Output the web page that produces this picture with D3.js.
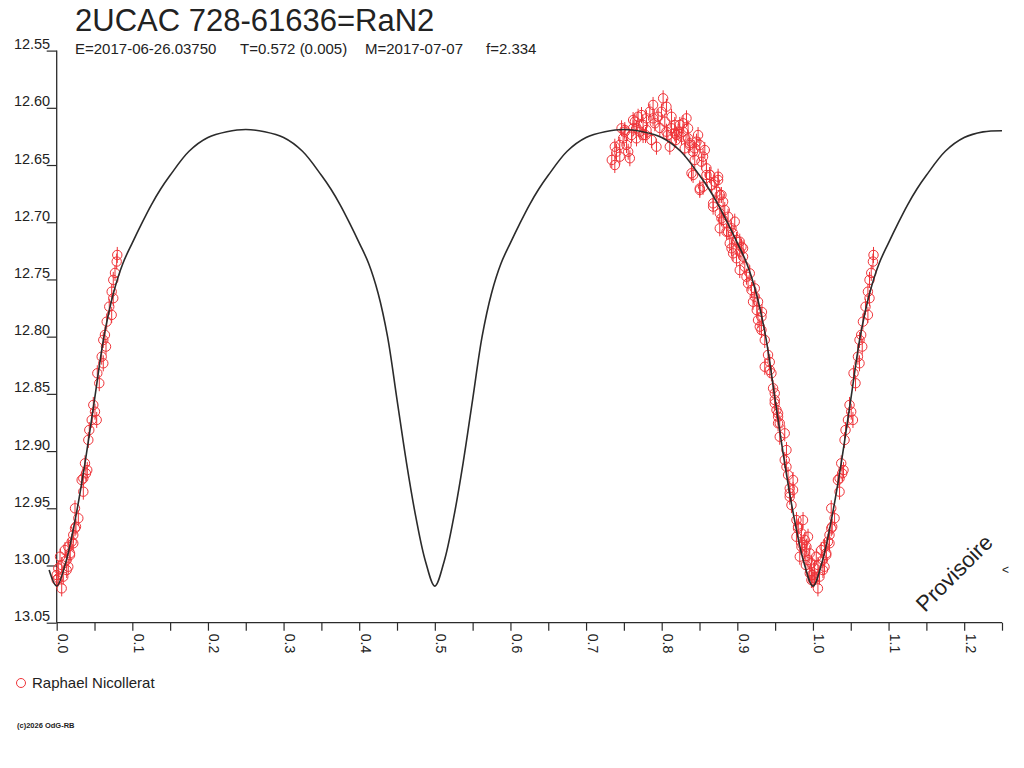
<!DOCTYPE html>
<html>
<head>
<meta charset="utf-8">
<script src="https://cdn.jsdelivr.net/npm/d3@7"></script>
<style>
  body { margin: 0; background: #fff; }
  svg { display: block; }
  text { font-family: "Liberation Sans", Arial, sans-serif; fill: #222; }
</style>
</head>
<body>
<div id="chart"></div>
<script>
// ---- data ----
var title = "2UCAC 728-61636=RaN2";
var subtitleParts = ["E=2017-06-26.03750", "T=0.572 (0.005)", "M=2017-07-07", "f=2.334"];
var observer = "Raphael Nicollerat";
var credit = "(c)2026 OdG-RB";

var yTicks = [12.55, 12.60, 12.65, 12.70, 12.75, 12.80, 12.85, 12.90, 12.95, 13.00, 13.05];
var xTicks = [0, 0.05, 0.1, 0.15, 0.2, 0.25, 0.3, 0.35, 0.4, 0.45, 0.5, 0.55, 0.6, 0.65, 0.7, 0.75, 0.8, 0.85, 0.9, 0.95, 1.0, 1.05, 1.1, 1.15, 1.2, 1.25];

// model light curve (phase, magnitude)
var modelPhase = [-0.01,
  0, 0.0125, 0.025, 0.0375, 0.05, 0.0625, 0.075, 0.0875, 0.1, 0.1125, 0.125, 0.1375, 0.15, 0.175, 0.2, 0.225, 0.25,
  0.275, 0.3, 0.325, 0.35, 0.3625, 0.375, 0.3875, 0.4, 0.4125, 0.425, 0.4375, 0.45, 0.4625, 0.475, 0.4875,
  0.5, 0.5125, 0.525, 0.5375, 0.55, 0.5625, 0.575, 0.5875, 0.6, 0.6125, 0.625, 0.6375, 0.65, 0.675, 0.7, 0.725, 0.75,
  0.775, 0.8, 0.825, 0.85, 0.8625, 0.875, 0.8875, 0.9, 0.9125, 0.925, 0.9375, 0.95, 0.9625, 0.975, 0.9875,
  1.0, 1.0125, 1.025, 1.0375, 1.05, 1.0625, 1.075, 1.0875, 1.1, 1.1125, 1.125, 1.1375, 1.15, 1.175, 1.2, 1.225, 1.25];
var modelMag = [13.004,
  13.018, 12.996, 12.958, 12.910, 12.855, 12.800, 12.762, 12.736, 12.718, 12.701, 12.685, 12.671, 12.659, 12.638, 12.626, 12.621, 12.619,
  12.621, 12.626, 12.638, 12.659, 12.671, 12.685, 12.701, 12.718, 12.736, 12.762, 12.800, 12.855, 12.910, 12.958, 12.996,
  13.018, 12.996, 12.958, 12.910, 12.855, 12.800, 12.762, 12.736, 12.718, 12.701, 12.685, 12.671, 12.659, 12.638, 12.626, 12.621, 12.619,
  12.621, 12.626, 12.638, 12.659, 12.671, 12.685, 12.701, 12.718, 12.736, 12.762, 12.800, 12.855, 12.910, 12.958, 12.996,
  13.018, 12.996, 12.958, 12.910, 12.855, 12.800, 12.762, 12.736, 12.718, 12.701, 12.685, 12.671, 12.659, 12.638, 12.626, 12.621, 12.620];

// observations (phase in [0,1), magnitude)
var obsPhase = [0.0801, 0.0793, 0.0771, 0.0748, 0.0727, 0.0748, 0.0695, 0.0727, 0.0661, 0.0638, 0.0616, 0.0652, 0.0595, 0.0616, 0.0537, 0.0563,
  0.0484, 0.0506, 0.0463, 0.0529, 0.0431, 0.0418, 0.0374, 0.0404, 0.0352, 0.0387, 0.0330, 0.0352, 0.0242, 0.0286, 0.0255, 0.0242,
  0.0219, 0.0198, 0.0219, 0.0153, 0.0110, 0.0044, 0.0176, 0.0176, 0.0132, 0.0066, 0.0153, 0.0021, 0.0132, 0.0000, 0.0087, 0.0021,
  0.0000, 0.0066,
  0.7380, 0.7380, 0.7446, 0.7402, 0.7490, 0.7469, 0.7579, 0.7535, 0.7601, 0.7645, 0.7688, 0.7667, 0.7754, 0.7733, 0.7799, 0.7843,
  0.7886, 0.7909, 0.7865, 0.7931, 0.8019, 0.7997, 0.8063, 0.8041, 0.8107, 0.8130, 0.8173, 0.8217, 0.8262, 0.8328, 0.8283, 0.8349,
  0.8305, 0.8394, 0.8415, 0.8481, 0.8504, 0.8504, 0.8526, 0.8592, 0.8636, 0.8702, 0.8746, 0.8680, 0.8768, 0.8790, 0.8812, 0.8878,
  0.8923, 0.8768, 0.8966, 0.8923, 0.8989, 0.9076, 0.7512, 0.7786, 0.7975, 0.8081, 0.8186, 0.8371, 0.8437, 0.8570, 0.7340,
  0.7622, 0.7711, 0.7799, 0.8063, 0.8196, 0.8239, 0.8371, 0.8437, 0.8547, 0.8592, 0.8658, 0.8724, 0.7557, 0.7446, 0.7512, 0.7667,
  0.7754, 0.7622, 0.7886, 0.7953, 0.8130, 0.8173, 0.8283, 0.8349, 0.8460, 0.8857, 0.8944,
  0.8415, 0.8547, 0.8504, 0.8636, 0.8746, 0.8680, 0.8790, 0.8768, 0.8834, 0.8900, 0.8989, 0.8944, 0.9032, 0.8989, 0.9076, 0.9032,
  0.9099, 0.9142, 0.9187, 0.9231, 0.9208, 0.9274, 0.9274, 0.9319, 0.9363, 0.9406, 0.9363, 0.9451, 0.9473, 0.9495, 0.9518, 0.9539,
  0.9326, 0.9429, 0.9257, 0.8812, 0.8878, 0.9032, 0.9055, 0.9121, 0.9165, 0.9231, 0.9297, 0.9319, 0.9429, 0.9495, 0.9539,
  0.9495, 0.9539, 0.9561, 0.9561, 0.9627, 0.9650, 0.9627, 0.9650, 0.9671, 0.9693, 0.9737, 0.9693, 0.9716, 0.9782, 0.9803, 0.9869,
  0.9782, 0.9848, 0.9892, 0.9935, 0.9826, 0.9914, 0.9958, 0.9980, 0.9984, 0.9906, 0.9865,
  0.9693, 0.9737, 0.9803, 0.9848, 0.9892, 0.9935, 0.9958, 0.9980];
var obsMag = [12.7286, 12.7344, 12.7443, 12.7504, 12.7607, 12.7664, 12.7738, 12.7810, 12.7869, 12.7985, 12.8029, 12.8087, 12.8175, 12.8233, 12.8320, 12.8407,
  12.8597, 12.8656, 12.8728, 12.8728, 12.8816, 12.8903, 12.9107, 12.9166, 12.9238, 12.9195, 12.9253, 12.9355, 12.9500, 12.9587, 12.9661, 12.9675,
  12.9733, 12.9792, 12.9806, 12.9836, 12.9865, 12.9923, 12.9893, 12.9909, 12.9952, 12.9996, 13.0011, 13.0025, 13.0040, 13.0083, 13.0098, 13.0112,
  13.0126, 13.0200,
  12.6340, 12.6500, 12.6427, 12.6384, 12.6267, 12.6179, 12.6441, 12.6325, 12.6238, 12.6121, 12.6078, 12.6179, 12.6150, 12.6063, 12.6092, 12.6034,
  12.5975, 12.6135, 12.6281, 12.6340, 12.5917, 12.6034, 12.5990, 12.6121, 12.6340, 12.6179, 12.6150, 12.6209, 12.6253, 12.6092, 12.6135, 12.6267,
  12.6354, 12.6572, 12.6384, 12.6238, 12.6325, 12.6704, 12.6471, 12.6529, 12.6587, 12.6646, 12.6602, 12.6864, 12.6762, 12.6966, 12.6821, 12.6952,
  12.7053, 12.7053, 12.6995, 12.7228, 12.7170, 12.7228, 12.6194, 12.6238, 12.6176, 12.6238, 12.6281, 12.6325, 12.6456, 12.6369, 12.6456,
  12.6179, 12.6209, 12.6194, 12.6209, 12.6238, 12.6150, 12.6310, 12.6354, 12.6427, 12.6587, 12.6675, 12.6733, 12.6384, 12.6325, 12.6209, 12.6267,
  12.6238, 12.6107, 12.6092, 12.6078, 12.6078, 12.6223, 12.6209, 12.6179, 12.6296, 12.7083, 12.7097,
  12.6587, 12.6690, 12.6718, 12.6587, 12.6631, 12.6835, 12.6762, 12.6922, 12.6893, 12.7184, 12.7155, 12.7272, 12.7258, 12.7315, 12.7301, 12.7418,
  12.7389, 12.7534, 12.7592, 12.7578, 12.7695, 12.7695, 12.7855, 12.7942, 12.8029, 12.8160, 12.8263, 12.8320, 12.8451, 12.8554, 12.8641, 12.8757,
  12.7785, 12.8222, 12.7768, 12.6980, 12.7083, 12.7170, 12.7214, 12.7476, 12.7447, 12.7651, 12.7913, 12.7826, 12.8292, 12.8495, 12.8700,
  12.8583, 12.8670, 12.8757, 12.8875, 12.8845, 12.8991, 12.9078, 12.9137, 12.9209, 12.9326, 12.9340, 12.9399, 12.9472, 12.9603, 12.9675, 12.9603,
  12.9749, 12.9719, 12.9777, 12.9749, 12.9923, 12.9836, 12.9894, 12.9981, 13.0083, 12.9996, 12.9821,
  12.9369, 12.9253, 12.9661, 12.9836, 12.9880, 12.9952, 13.0068, 13.0127];
var obsErr = 0.007;

// ---- drawing ----
var W = 1024, H = 768;
var red = "#ef3439", ink = "#2b2b2b";

var svg = d3.select("#chart").append("svg").attr("width", W).attr("height", H);

var x = d3.scaleLinear().domain([0, 1.25]).range([56.7, 1002]);
var y = d3.scaleLinear().domain([12.55, 13.05]).range([50.6, 622.7]);

// title block
svg.append("text").attr("x", 75).attr("y", 31).attr("font-size", "31px").text(title);
var subX = [75, 240, 365, 486];
svg.selectAll("text.sub").data(subtitleParts).enter().append("text")
  .attr("class", "sub").attr("x", function(d, i) { return subX[i]; }).attr("y", 54)
  .attr("font-size", "15px").text(function(d) { return d; });

// y axis
var yAxis = d3.axisLeft(y).tickValues(yTicks).tickSize(10).tickFormat(d3.format(".2f"));
var gy = svg.append("g").attr("transform", "translate(" + x(0) + ",0)").call(yAxis);
gy.select(".domain").remove();
gy.selectAll(".tick line").attr("stroke", ink).attr("stroke-width", 1.2);
gy.selectAll(".tick text").attr("x", -6.5).attr("y", -2).attr("dy", 0)
  .attr("font-size", "14.5px").attr("fill", ink)
  .style("font-family", "'Liberation Sans', Arial, sans-serif");
gy.append("line").attr("x1", 0).attr("x2", 0).attr("y1", y(12.55)).attr("y2", y(13.05))
  .attr("stroke", ink).attr("stroke-width", 1.3);

// x axis
var xAxis = d3.axisBottom(x).tickValues(xTicks).tickSize(8)
  .tickFormat(function(d) { return Math.round(d * 100) % 10 === 0 ? d3.format(".1f")(d) : ""; });
var gx = svg.append("g").attr("transform", "translate(0," + y(13.05) + ")").call(xAxis);
gx.select(".domain").remove();
gx.selectAll(".tick line").attr("stroke", ink).attr("stroke-width", 1.2);
gx.selectAll(".tick text").attr("x", 0).attr("y", 0).attr("dy", 0)
  .attr("transform", "translate(1,11) rotate(90)")
  .attr("text-anchor", "start").attr("font-size", "14px").attr("fill", ink)
  .style("font-family", "'Liberation Sans', Arial, sans-serif");
gx.append("line").attr("x1", x(0)).attr("x2", x(1.25)).attr("y1", 0).attr("y2", 0)
  .attr("stroke", ink).attr("stroke-width", 1.3);

// observations, phases below 0.25 repeated one cycle later
var pts = [];
obsPhase.forEach(function(p, i) {
  pts.push({ p: p, m: obsMag[i] });
  if (p + 1 <= 1.25) pts.push({ p: p + 1, m: obsMag[i] });
});

var gp = svg.append("g");
var mk = gp.selectAll("g").data(pts).enter().append("g")
  .attr("transform", function(d) { return "translate(" + x(d.p) + "," + y(d.m) + ")"; });
mk.append("circle").attr("r", 4.7).attr("fill", "none").attr("stroke", red).attr("stroke-width", 1);
mk.append("line").attr("x1", 0).attr("x2", 0)
  .attr("y1", function(d) { return y(d.m - obsErr) - y(d.m); })
  .attr("y2", function(d) { return y(d.m + obsErr) - y(d.m); })
  .attr("stroke", red).attr("stroke-width", 1);

// model curve
var line = d3.line()
  .x(function(d) { return x(d[0]); })
  .y(function(d) { return y(d[1]); })
  .curve(d3.curveCatmullRom.alpha(0.5));
svg.append("path").datum(modelPhase.map(function(p, i) { return [p, modelMag[i]]; }))
  .attr("d", line).attr("fill", "none").attr("stroke", ink).attr("stroke-width", 1.6);

// watermark
svg.append("text").attr("transform", "translate(925,613) rotate(-45)")
  .attr("font-size", "22px").attr("fill", ink).text("Provisoire");
svg.append("text").attr("x", 1002).attr("y", 574).attr("font-size", "12px").attr("fill", ink).text("<");

// legend
svg.append("circle").attr("cx", 21).attr("cy", 683).attr("r", 4.5)
  .attr("fill", "none").attr("stroke", red).attr("stroke-width", 1);
svg.append("text").attr("x", 32).attr("y", 688).attr("font-size", "15px").text(observer);

// credit
svg.append("text").attr("x", 17).attr("y", 728).attr("font-size", "7.5px")
  .attr("font-weight", "bold").attr("fill", "#333").text(credit);
</script>
</body>
</html>
